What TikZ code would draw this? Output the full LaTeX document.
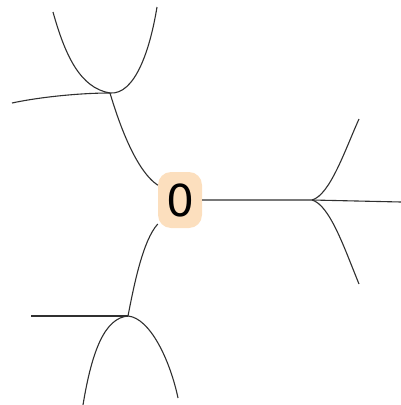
\documentclass[tikz,border=0pt]{standalone}
\usepackage{fontspec}
\setmainfont{Liberation Sans}
\newfontfamily\digitfont{DejaVu Sans}
\definecolor{peach}{HTML}{FCDFBE}
\definecolor{inkline}{HTML}{303030}
\begin{document}
\begin{tikzpicture}[x=1pt,y=-1pt,
  link/.style={draw=inkline,line width=1.1pt},
  leaf/.style={fill=peach,rounded corners=13pt,minimum width=44pt,minimum height=56pt,inner sep=0pt,font=\digitfont\fontsize{44}{44}\selectfont}]
\useasboundingbox (0,0) rectangle (401,405);
\coordinate (j1) at (110,93);
\coordinate (j2) at (312,200);
\coordinate (j3) at (128,316);
\coordinate (e1) at (12,103);
\coordinate (e2) at (53,12);
\coordinate (e3) at (157,7);
\coordinate (e4) at (401,202);
\coordinate (e5) at (359,119);
\coordinate (e6) at (359,284);
\coordinate (e7) at (31,316);
\coordinate (e8) at (83,405);
\coordinate (e9) at (178,398);
\node[leaf] (n0) at (180,200) {0};
\path[link] (j1) .. controls (118,120) and (135,170) .. (n0);
\path[link] (j1) .. controls (80,93) and (40,97) .. (e1);
\path[link] (e2) .. controls (65,55) and (80,88) .. (j1) .. controls (135,95) and (150,50) .. (e3);
\path[link] (n0) -- (j2) -- (e4);
\path[link] (j2) .. controls (330,195) and (345,150) .. (e5);
\path[link] (j2) .. controls (330,205) and (345,250) .. (e6);
\path[link] (j3) .. controls (134,285) and (143,240) .. (n0);
\path[link] (j3) -- (e7);
\path[link] (e8) .. controls (92,350) and (105,318) .. (j3) .. controls (150,318) and (170,360) .. (e9);
\end{tikzpicture}
\end{document}
